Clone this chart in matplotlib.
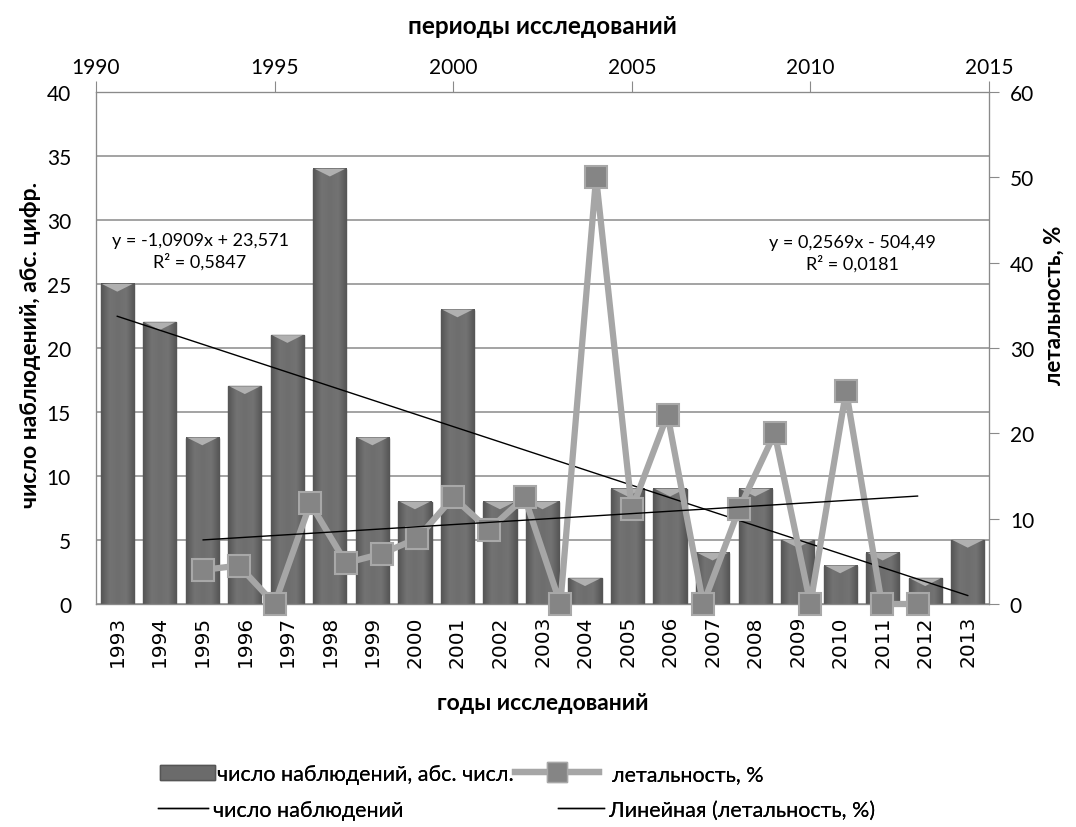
import matplotlib
matplotlib.use("Agg")
import matplotlib.pyplot as plt
from matplotlib.lines import Line2D
from matplotlib.patches import Patch
from matplotlib.colors import LinearSegmentedColormap
import numpy as np

plt.rcParams['font.family'] = ['Lato', 'DejaVu Sans']

years = [1993, 1994, 1995, 1996, 1997, 1998, 1999, 2000, 2001, 2002, 2003,
         2004, 2005, 2006, 2007, 2008, 2009, 2010, 2011, 2012, 2013]
cases = [25, 22, 13, 17, 21, 34, 13, 8, 23, 8, 8, 2, 9, 9, 4, 9, 5, 3, 4, 2, 5]
lethality = [4.0, 4.5, 0, 11.8, 4.8, 5.9, 7.7, 12.5, 8.7, 12.5, 0, 50.0,
             11.1, 22.2, 0, 11.1, 20.0, 0, 25.0, 0, 0]
trend_cases = (-1.0909, 23.571)
trend_leth = (0.2569, -504.49)
eq_cases = "y = -1,0909x + 23,571\nR² = 0,5847"
eq_leth = "y = 0,2569x - 504,49\nR² = 0,0181"
top_ticks = [1990, 1995, 2000, 2005, 2010, 2015]
legend_labels = ['число наблюдений, абс. числ.', 'летальность, %',
                 'число наблюдений', 'Линейная (летальность, %)']

W, H = 1076, 828
fig = plt.figure(figsize=(W / 100, H / 100), dpi=100)
L, R, T, B = 96, 989, 93, 605
ax = fig.add_axes([L / W, 1 - B / H, (R - L) / W, (B - T) / H])
ax2 = ax.twinx()
ax3 = ax2.twiny()

gc = '#8a8a8a'
x = np.arange(len(years))
ax.set_axisbelow(True)
bw = 0.78
ax.bar(x, cases, width=bw, color='#6b6b6b', edgecolor='#555555', linewidth=1, zorder=2)
cmap = LinearSegmentedColormap.from_list('bar', ['#555555', '#737373', '#6e6e6e', '#737373', '#555555'])
grad = np.linspace(0, 1, 64).reshape(1, -1)
for xi, v in zip(x, cases):
    ax.imshow(grad, extent=[xi - bw / 2, xi + bw / 2, 0, v], aspect='auto', cmap=cmap,
              zorder=2.1, interpolation='bilinear')
    ax.fill([xi - bw / 2 + 0.03, xi + bw / 2 - 0.03, xi], [v, v, v - 0.6], color='#b0b0b0',
            zorder=3, lw=0)
ax.set_xlim(-0.5, len(years) - 0.5)
ax.set_ylim(0, 40)
ax.set_yticks(range(0, 41, 5))
ax.yaxis.grid(True, color=gc, lw=1.1)
ax.set_xticks(x)
ax.set_xticklabels([str(y) for y in years], rotation=90, family='DejaVu Sans', fontsize=14.5)
ax.tick_params(axis='x', length=0, pad=8)
ax.tick_params(axis='y', length=0, pad=18, labelsize=15)
ax.set_xlabel('годы исследований', fontsize=16.5, fontweight='bold', labelpad=18)

xi = np.array([1, len(years)])
ax.plot(xi - 1, trend_cases[0] * xi + trend_cases[1], color='black', lw=1.0, zorder=4)

for a in (ax, ax2, ax3):
    for s in a.spines.values():
        s.set_color(gc)

ax2.set_ylim(0, 60)
ax2.set_yticks(range(0, 61, 10))
ax2.tick_params(axis='y', length=7, color=gc, pad=8, labelsize=15)

ax3.set_xlim(1990, 2015)
ax3.set_xticks(top_ticks)
ax3.tick_params(axis='x', length=8, color=gc, pad=3, labelsize=15, direction='out')
ax3.set_xlabel('периоды исследований', fontsize=17.5, fontweight='bold', labelpad=17)

ax3.plot(years, lethality, color='#a6a6a6', lw=4.5, marker='s', markersize=16.5,
         markerfacecolor='#858585', markeredgecolor='#a8a8a8', markeredgewidth=1.5,
         zorder=5, clip_on=False)
xl = np.array([years[0], years[-1]])
ax3.plot(xl, trend_leth[0] * xl + trend_leth[1], color='black', lw=1.0, zorder=6)

fig.text(31 / W, 1 - 345 / H, 'число наблюдений, абс. цифр.', rotation=90, fontsize=16.5,
         fontweight='bold', ha='center', va='center')
fig.text(1054 / W, 1 - 305 / H, 'летальность, %', rotation=90, fontsize=16,
         fontweight='bold', ha='center', va='center')

fig.text(200 / W, 1 - 252 / H, eq_cases, fontsize=13, ha='center', va='center', linespacing=1.3)
fig.text(852 / W, 1 - 254 / H, eq_leth, fontsize=13, ha='center', va='center', linespacing=1.3)

h_bar = Patch(facecolor='#6b6b6b', edgecolor='#555555')
h_line = Line2D([], [], color='#a6a6a6', lw=4.5, marker='s', markersize=14,
                markerfacecolor='#858585', markeredgecolor='#a8a8a8')
h_t1 = Line2D([], [], color='black', lw=1.0)
h_t2 = Line2D([], [], color='black', lw=1.0)
entries = [
    (h_bar, legend_labels[0], 160, 775, 2.55, 0.1),
    (h_line, legend_labels[1], 515, 775, 3.9, 0.6),
    (h_t1, legend_labels[2], 158, 811, 2.3, 0.25),
    (h_t2, legend_labels[3], 558, 811, 2.15, 0.2),
]
fs_leg = 15.5
for h, lab, x0, y0, hl, tp in entries:
    lg = fig.legend([h], [lab], loc='center left', bbox_to_anchor=(x0 / W, 1 - y0 / H),
                    frameon=False, fontsize=fs_leg, handlelength=hl, handletextpad=tp,
                    borderpad=0, borderaxespad=0)
    fig.add_artist(lg)

fig.savefig('out.png', dpi=100)
